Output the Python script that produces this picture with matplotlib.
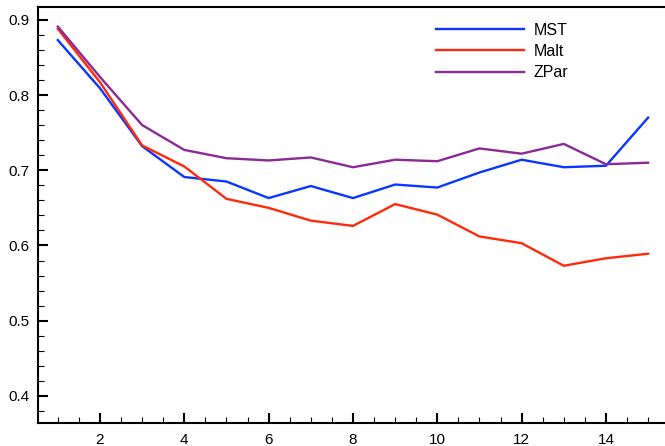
import numpy as np
import matplotlib.pyplot as plt
from matplotlib.ticker import MultipleLocator

plt.rcParams['font.family'] = ['Liberation Sans', 'DejaVu Sans']

x = list(range(1, 16))
mst = [0.873, 0.809, 0.732, 0.691, 0.685, 0.663, 0.679, 0.663, 0.681, 0.677,
       0.697, 0.714, 0.704, 0.706, 0.770]
malt = [0.888, 0.817, 0.733, 0.705, 0.662, 0.650, 0.633, 0.626, 0.655, 0.641,
        0.612, 0.603, 0.573, 0.583, 0.589]
zpar = [0.891, 0.824, 0.760, 0.727, 0.716, 0.713, 0.717, 0.704, 0.714, 0.712,
        0.729, 0.722, 0.735, 0.708, 0.710]

fig = plt.figure(figsize=(6.65, 4.46), dpi=100)
ax = fig.add_axes([38/665, 1 - 423/446, 1 - 38/665, 416/446])

ax.plot(x, mst, color='#0a36ff', lw=1.7, label='MST')
ax.plot(x, malt, color='#ff2a0a', lw=1.7, label='Malt')
ax.plot(x, zpar, color='#8b2a96', lw=1.7, label='ZPar')

ax.set_xlim(0.53, 15.4)
ax.set_ylim(0.364, 0.917)

ax.xaxis.set_major_locator(MultipleLocator(2))
ax.xaxis.set_minor_locator(MultipleLocator(0.5))
ax.yaxis.set_major_locator(MultipleLocator(0.1))
ax.yaxis.set_minor_locator(MultipleLocator(0.02))
ax.yaxis.set_major_formatter(lambda v, p: '%.1f' % v)

ax.tick_params(which='both', direction='in', top=False, right=False, labelsize=11)
ax.tick_params(which='major', length=7.5, width=1.5)
ax.tick_params(which='minor', length=4, width=0.8)
ax.tick_params(axis='x', pad=7)
ax.tick_params(axis='y', pad=6)

for s in ['left', 'bottom', 'top']:
    ax.spines[s].set_linewidth(1.5)
ax.spines['right'].set_visible(False)

ax.legend(loc='upper left', bbox_to_anchor=(428/665, 1 - 15/446),
          bbox_transform=fig.transFigure, frameon=False, fontsize=11.5,
          handlelength=5.5, handletextpad=0.6, labelspacing=0.38, borderpad=0)

fig.savefig('out.png', dpi=100)
